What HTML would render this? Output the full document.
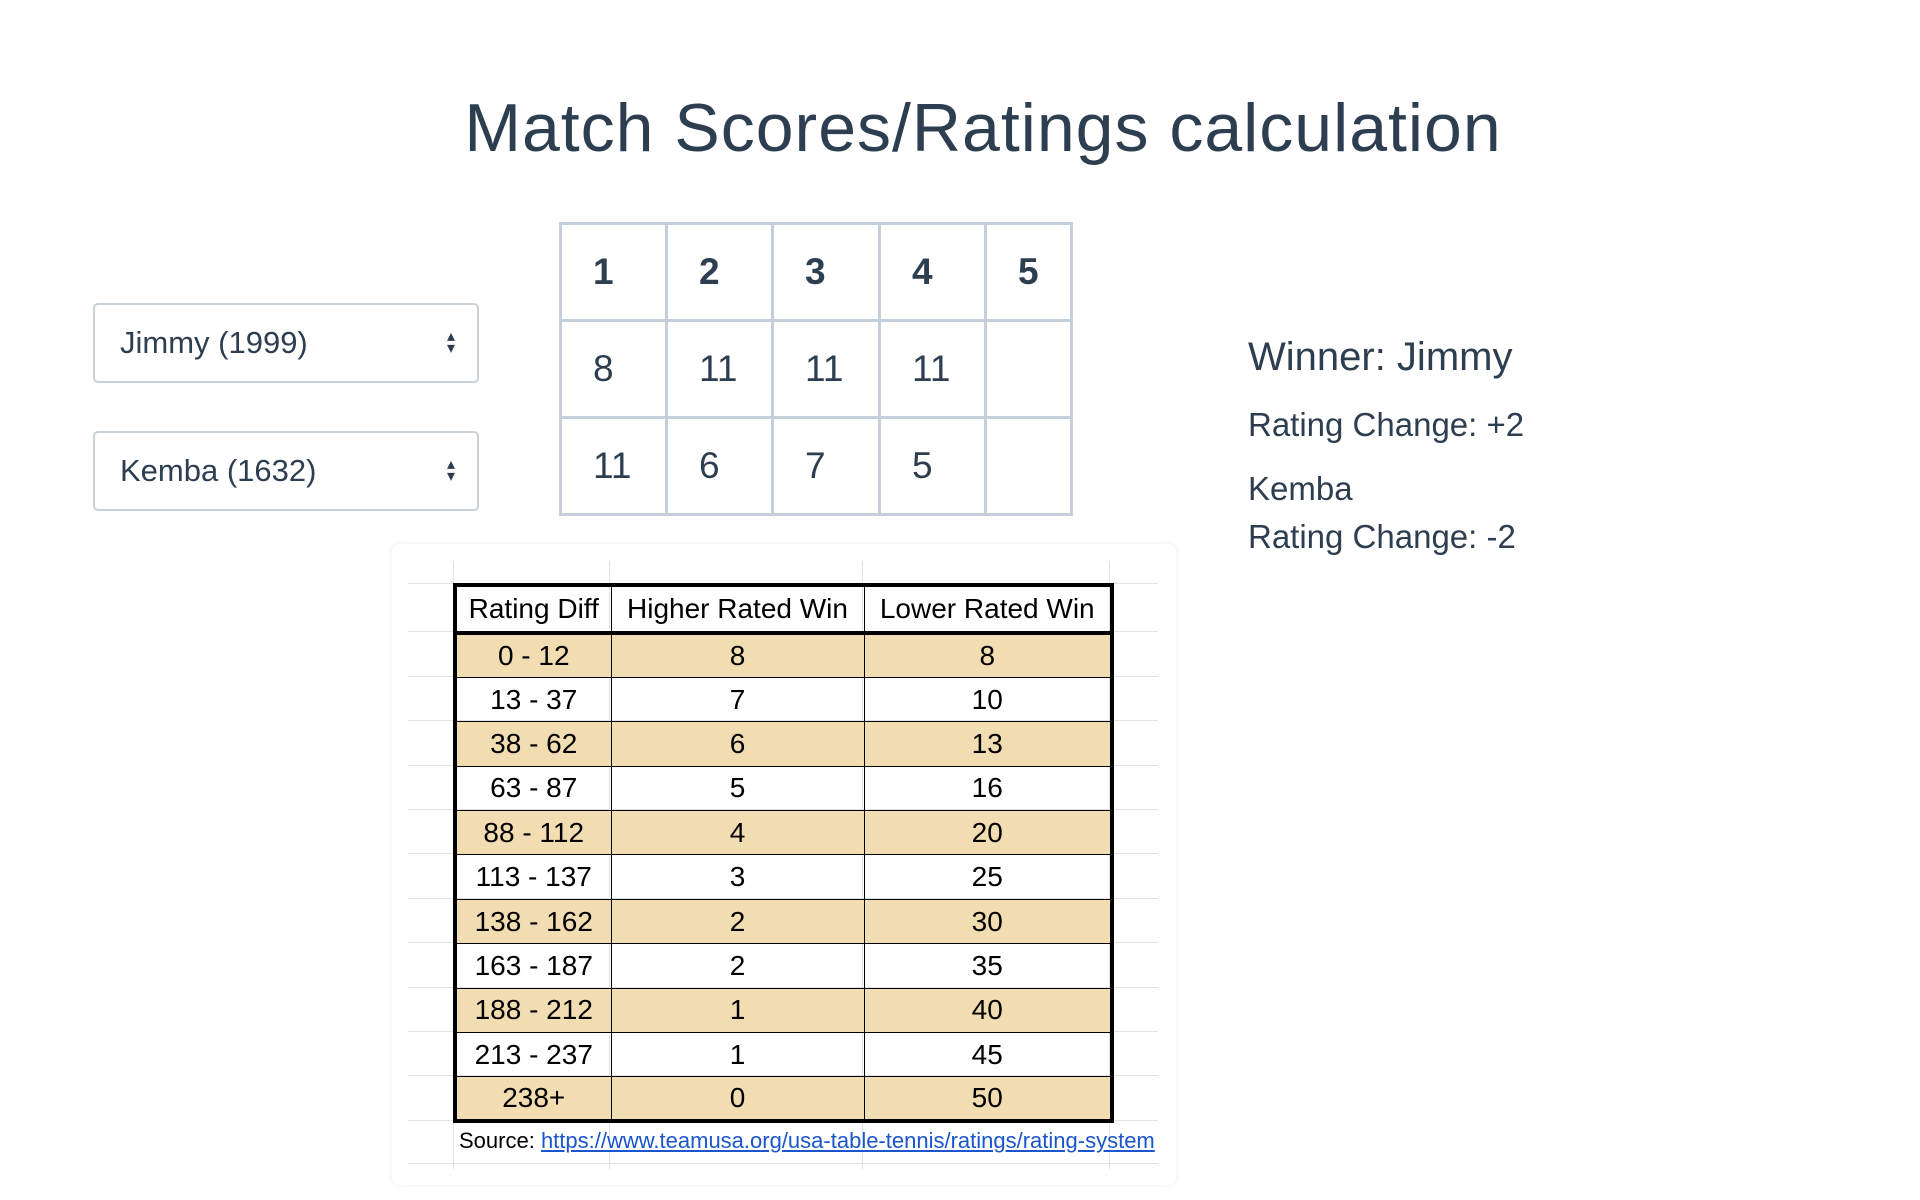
<!DOCTYPE html>
<html><head><meta charset="utf-8"><style>
body{margin:0;width:1920px;height:1200px;background:#fff;font-family:"Liberation Sans",sans-serif;color:#2c3e50;position:relative;overflow:hidden}
.abs{position:absolute}
h1{position:absolute;left:0;width:1966px;top:89px;margin:0;text-align:center;font-size:68px;font-weight:normal;color:#2c3e50;letter-spacing:1px}
.sel{position:absolute;left:93px;width:386px;height:80px;border:2px solid #c8d0da;border-radius:5px;box-sizing:border-box;font-size:31px;line-height:76px;padding-left:25px}
.sel .arr{position:absolute;right:22px;font-size:16px;line-height:12px;top:26px;text-align:center}
#scores{position:absolute;left:559px;top:222px;border-collapse:collapse;table-layout:fixed;width:511px}
#scores td{border:3px solid #c5cfdb;height:97px;font-size:37px;padding:0 0 0 31px;box-sizing:border-box;overflow:hidden}
#scores tr:first-child td{font-weight:bold}
.r{position:absolute;left:1248px;color:#2c3e50}
#card{position:absolute;left:392px;top:544px;width:784px;height:641px;background:#fff;border-radius:8px;box-shadow:0 0 6px rgba(0,0,0,0.08)}
.gl{position:absolute;background:#e2e2e2}
#rt{position:absolute;left:453px;top:583px;border-collapse:collapse;border:4px solid #000;font-family:"Liberation Sans",sans-serif;color:#000}
#rt td{border:1.5px solid #000;font-size:28px;text-align:center;height:44.4px;padding:0;box-sizing:border-box}
#rt tr.h td{height:48px;border-bottom:4px solid #000}
#rt tr.t td{background:#f2dcb1}
</style></head><body>
<h1>Match Scores/Ratings calculation</h1>
<div class="sel" style="top:303px">Jimmy (1999)<div class="arr">▴<br>▾</div></div>
<div class="sel" style="top:431px">Kemba (1632)<div class="arr">▴<br>▾</div></div>
<table id="scores">
<colgroup><col style="width:106px"><col style="width:106px"><col style="width:107px"><col style="width:106px"><col style="width:86px"></colgroup>
<tr><td>1</td><td>2</td><td>3</td><td>4</td><td>5</td></tr>
<tr><td>8</td><td>11</td><td>11</td><td>11</td><td></td></tr>
<tr><td>11</td><td>6</td><td>7</td><td>5</td><td></td></tr>
</table>
<div class="r" style="top:335px;font-size:40px">Winner: Jimmy</div>
<div class="r" style="top:406px;font-size:33px">Rating Change: +2</div>
<div class="r" style="top:470px;font-size:33px">Kemba</div>
<div class="r" style="top:518px;font-size:33px">Rating Change: -2</div>
<div id="card"></div>
<div class="gl" style="left:453px;top:561px;width:1px;height:608px"></div>
<div class="gl" style="left:609px;top:561px;width:1px;height:608px"></div>
<div class="gl" style="left:862px;top:561px;width:1px;height:608px"></div>
<div class="gl" style="left:1109px;top:561px;width:1px;height:608px"></div>
<div id="hl"></div>
<table id="rt">
<tr class="h"><td style="width:156px">Rating Diff</td><td style="width:253px">Higher Rated Win</td><td style="width:248px">Lower Rated Win</td></tr>
<tr class="t"><td>0 - 12</td><td>8</td><td>8</td></tr>
<tr><td>13 - 37</td><td>7</td><td>10</td></tr>
<tr class="t"><td>38 - 62</td><td>6</td><td>13</td></tr>
<tr><td>63 - 87</td><td>5</td><td>16</td></tr>
<tr class="t"><td>88 - 112</td><td>4</td><td>20</td></tr>
<tr><td>113 - 137</td><td>3</td><td>25</td></tr>
<tr class="t"><td>138 - 162</td><td>2</td><td>30</td></tr>
<tr><td>163 - 187</td><td>2</td><td>35</td></tr>
<tr class="t"><td>188 - 212</td><td>1</td><td>40</td></tr>
<tr><td>213 - 237</td><td>1</td><td>45</td></tr>
<tr class="t"><td>238+</td><td>0</td><td>50</td></tr>
</table>
<div class="abs" style="left:459px;top:1128px;font-size:22px;color:#000">Source: <span style="color:#1a55cc;text-decoration:underline">https://www.teamusa.org/usa-table-tennis/ratings/rating-system</span></div>
<script>
var ys=[583,631,676,720,765,809,853,898,942,987,1031,1075,1120,1163];
var hl=document.getElementById('hl');
for(var i=0;i<ys.length;i++){var d=document.createElement('div');d.className='gl';d.style.cssText='left:408px;width:750px;height:1px;top:'+ys[i]+'px';


hl.appendChild(d);}
</script>
</body></html>
